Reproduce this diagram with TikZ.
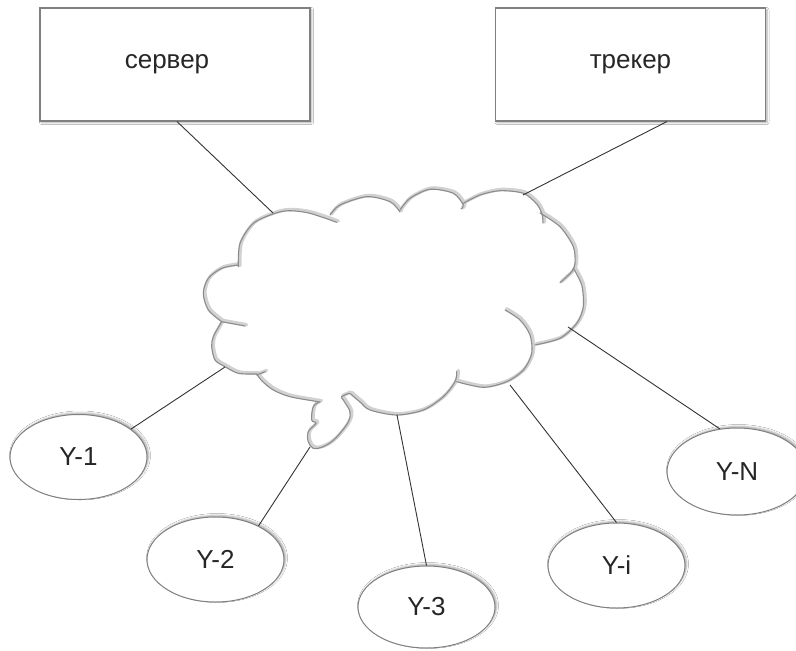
\documentclass[tikz,border=0pt]{standalone}
\usepackage{fontspec}
\setmainfont{Liberation Sans}
\usetikzlibrary{shapes.geometric,shadows.blur}
\begin{document}
\begin{tikzpicture}[x=1pt,y=-1pt,
  txt/.style={font=\fontsize{26}{30}\selectfont, text=black!85},
  box/.style={draw=black!50, line width=1.1pt, fill=white, minimum width=270pt, minimum height=113pt, inner sep=0pt, txt,
     blur shadow={shadow xshift=1.5pt, shadow yshift=-1.5pt, shadow blur radius=2pt, shadow opacity=35}},
  user/.style={ellipse, draw=black!50, line width=1pt, fill=white, minimum width=137pt, minimum height=85pt, inner sep=0pt, txt,
     blur shadow={shadow xshift=1.5pt, shadow yshift=1.5pt, shadow blur radius=2pt, shadow opacity=35}},
  link/.style={draw=black!80, line width=0.9pt},
  lobe/.style={draw=black!45, line width=1.1pt, line cap=round},
  lobeshadow/.style={draw=black!18, line width=3.5pt, line cap=round, shift={(1.5,-1.2)}},
]
\useasboundingbox (0,0) rectangle (796,651);
\fill[white] (0,0) rectangle (796,651);

% cloud lobes (shadow then outline)
\foreach \s in {lobeshadow,lobe}{
  \draw[\s] plot[smooth] coordinates {(238.3,266.7) (240,243.3) (253.3,223.3) (275,213.3) (290,210.7) (310,213.3) (336.7,222.3)};
  \draw[\s] plot[smooth] coordinates {(330,215) (340,205) (366.7,196.7) (390,201.7) (400,212)};
  \draw[\s] plot[smooth] coordinates {(400,210) (410,198.3) (430,189.3) (453.3,193.3) (463.3,205) (461,209)};
  \draw[\s] plot[smooth] coordinates {(463.3,203.3) (480,195) (500,190.7) (523.3,193.3) (536.7,204) (542,214) (543,223)};
  \draw[\s] plot[smooth] coordinates {(540,213) (560,226.7) (573.3,246.7) (575,263.3) (571.7,271.7) (560,282.7)};
  \draw[\s] plot[smooth] coordinates {(573.3,268.3) (581.7,285) (583.3,306.7) (576.7,323.3) (560,338.3) (535,345)};
  \draw[\s] plot[smooth] coordinates {(505,310) (520,320) (530,335) (531.7,353.3) (523.3,370) (506.7,381.7) (483.3,387.3) (456.7,381.7)};
  \draw[\s] plot[smooth] coordinates {(456.7,371.7) (455,381.7) (443.3,396.7) (423.3,410) (396.7,415) (370,410) (360,402) (350,393.5)};
  \draw[\s] plot[smooth, tension=0.6] coordinates {(349.3,393.3) (341.7,396.7) (343.3,400) (350,411.7) (348.3,421.7) (340,433.3) (331.7,441.7) (321.7,447.3) (313.3,448.3) (308.3,441.7) (308.3,431.7) (316,423.3) (311.7,420) (313.3,406.7) (320,401.7)};
  \draw[\s] plot[smooth] coordinates {(318.3,401.7) (290,396.7) (273.3,390) (262,381) (256.7,374)};
  \draw[\s] (256.7,375) -- (265,371.7);
  \draw[\s] plot[smooth] coordinates {(256.7,374) (238.3,373.3) (225,366.7) (215,360) (211.7,346.7) (213.3,336.7) (221.7,321.7)};
  \draw[\s] (221.7,321.7) -- (245,326);
  \draw[\s] plot[smooth] coordinates {(221.7,321.7) (208.3,310) (203.3,293.3) (208.3,278.3) (221.7,268.3) (238.3,265)};
}

% connection points on the cloud
\coordinate (cS) at (273,213);
\coordinate (cT) at (523,195);
\coordinate (c1) at (225,367);
\coordinate (c2) at (310,447);
\coordinate (c3) at (397,415);
\coordinate (ci) at (510,385);
\coordinate (cN) at (568,327);

% boxes
\node[box] (server) at (175,64.5) {сервер\rule{16pt}{0pt}};
\node[box] (tracker) at (630.5,64.5) {трекер};

% users
\node[user] (y1) at (78.5,457) {Y-1};
\node[user] (y2) at (215.5,559.5) {Y-2};
\node[user, minimum height=82pt] (y3) at (426.5,607) {Y-3};
\node[user] (yi) at (616.5,565.5) {Y-i};
\node[user, minimum width=140pt, minimum height=87pt] (yN) at (737,471.5) {Y-N};

% connectors
\draw[link] ([xshift=2pt]server.south) -- (cS);
\draw[link] ([xshift=36.5pt]tracker.south) -- (cT);
\draw[link] (y1.28) -- (c1);
\draw[link] (y2.38) -- (c2);
\draw[link] (y3.north) -- (c3);
\draw[link] (yi.north) -- (ci);
\draw[link] (yN.112) -- (cN);
\end{tikzpicture}
\end{document}
